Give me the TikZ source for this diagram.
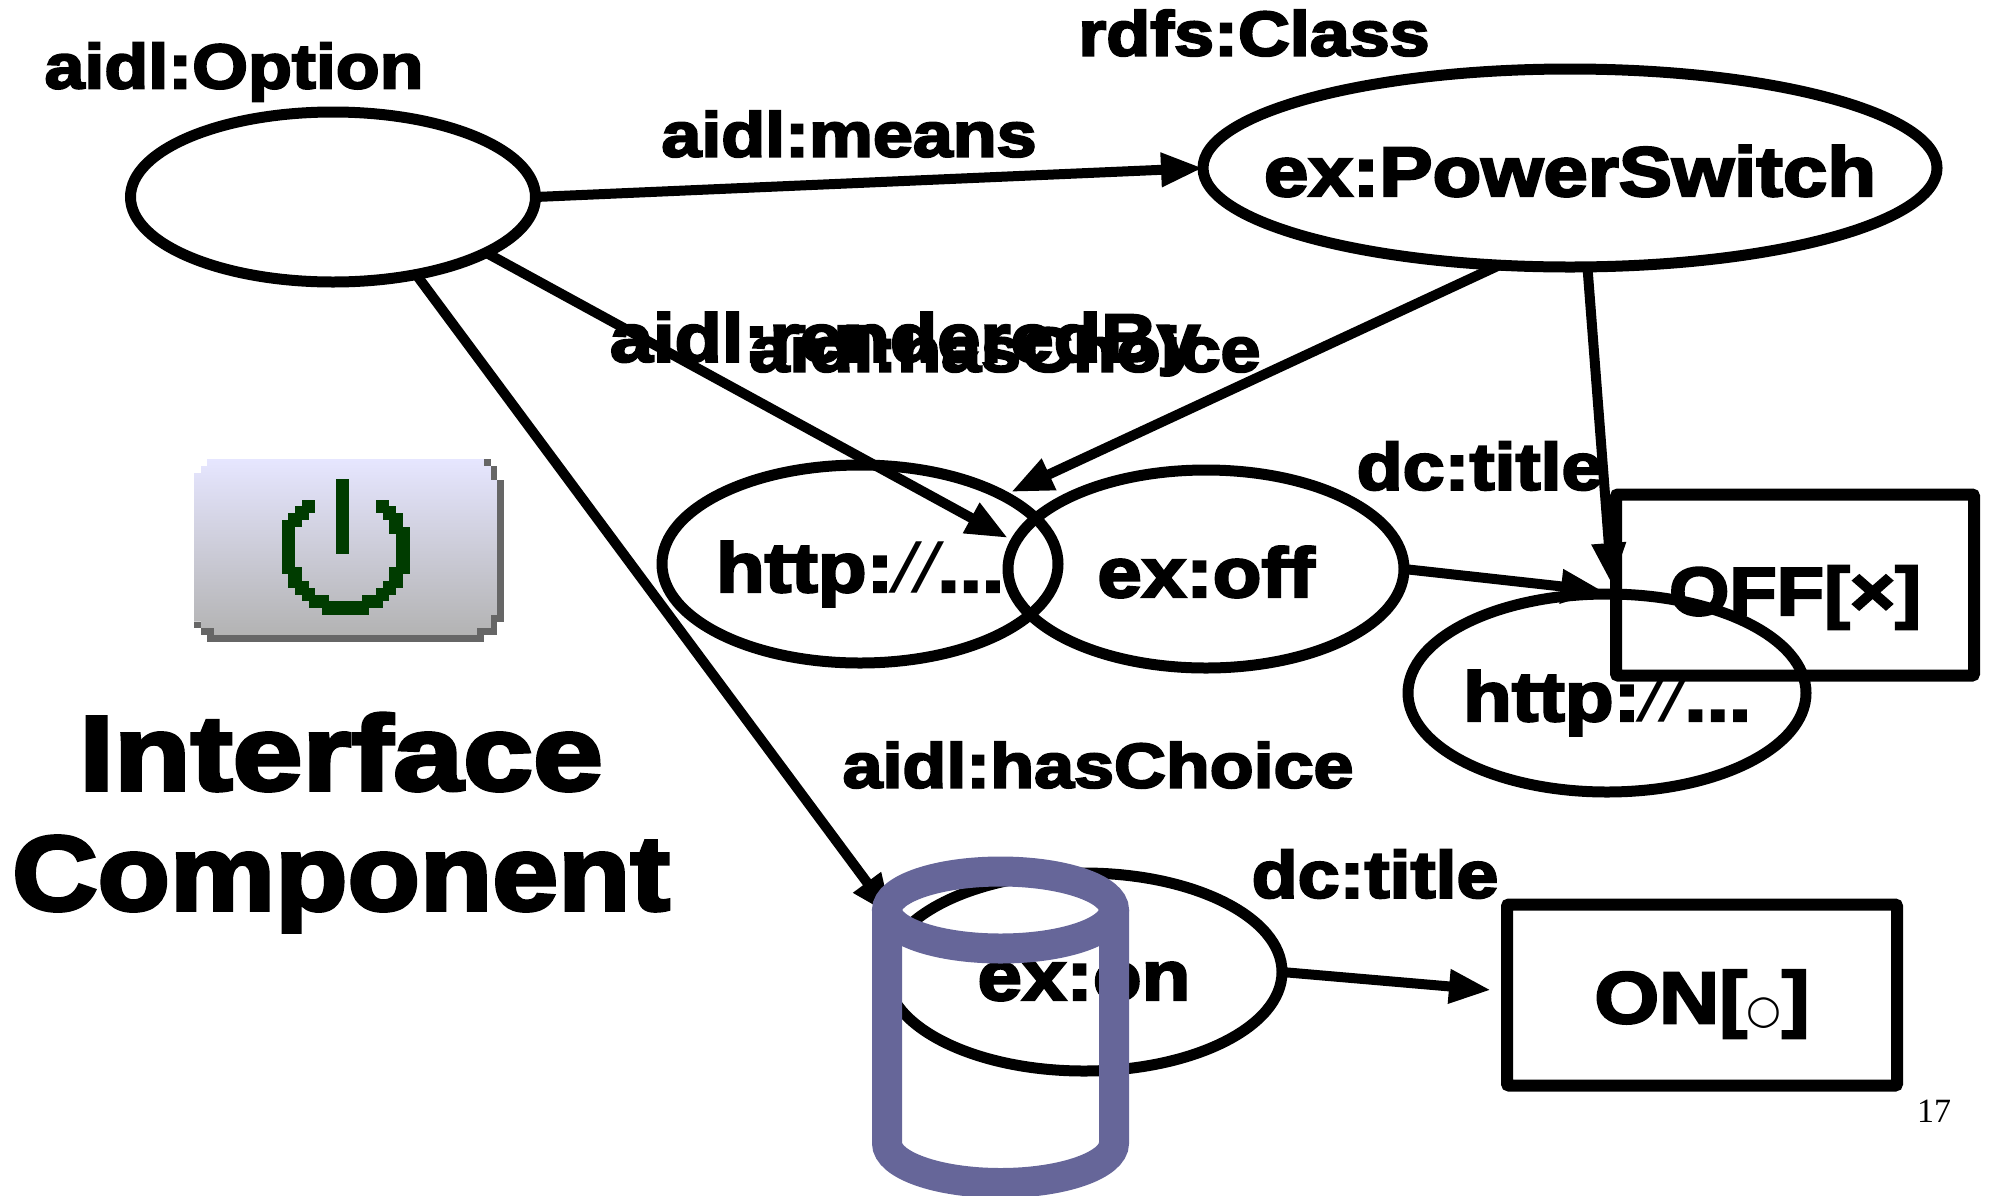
\documentclass[tikz,border=0pt]{standalone}
\usepackage{fontspec}
\setmainfont{Liberation Sans}
\newfontfamily\hv[FakeStretch=1.14,BoldFeatures={FakeBold=3.5}]{Liberation Sans}
\newfontfamily\serifnum{Liberation Serif}
\newfontfamily\djfont{DejaVu Sans}
\usetikzlibrary{arrows.meta,shapes.geometric}
\definecolor{cyl}{HTML}{666699}
\definecolor{pwr}{HTML}{003C00}
\definecolor{shd}{HTML}{666666}
\definecolor{gtop}{HTML}{E6E6FF}
\definecolor{gbot}{HTML}{B3B3B3}
\newcommand{\inlab}[1]{\makebox[0pt]{\smash{\raisebox{-0.4em}{#1}}}}
\newcommand{\slashes}{{\mdseries\itshape //}}
\tikzset{
  base/.style={font=\hv\bfseries\fontsize{35}{35}\selectfont,text=black},
  ell/.style={base,shape=ellipse,draw=black,line width=5.5pt,inner sep=0pt,outer sep=0pt},
  boxn/.style={base,shape=rectangle,draw=black,line width=6pt,rounded corners=1pt,inner sep=0pt,outer sep=0pt},
  lbl/.style={font=\hv\bfseries\fontsize{31.5}{31.5}\selectfont,text=black,inner sep=0pt},
  lblb/.style={font=\hv\bfseries\fontsize{34}{34}\selectfont,text=black,inner sep=0pt},
  lblc/.style={font=\hv\bfseries\fontsize{33}{33}\selectfont,text=black,inner sep=0pt},
  big/.style={font=\hv\bfseries\fontsize{53}{53}\selectfont,text=black,inner sep=0pt,anchor=base},
  conn/.style={line width=5pt,draw=black,-{Triangle[length=21pt,width=16pt]}},
  cylline/.style={draw=cyl,line width=15pt},
  px/.style={fill=pwr,draw=none},
  sh/.style={fill=shd,draw=none}
}
\begin{document}
\begin{tikzpicture}[x=0.5pt,y=-0.5pt]
\useasboundingbox (0,0) rectangle (1995,1195);

% icon
\begin{scope}[shift={(170,430)},x=0.16667pt,y=-0.16667pt]
 \shade[top color=gtop,bottom color=gbot]
  (72,129)--(93,129)--(93,108)--(111,108)--(111,87)--(942,87)--(942,108)--(963,108)--(963,149)--(981,149)--(981,555)--(963,555)--(963,594)--(921,594)--(921,615)--(132,615)--(132,594)--(93,594)--(93,575)--(72,575)--cycle;
 \fill[sh] (981,149) rectangle (1002,575);
 \fill[sh] (963,555) rectangle (981,594);
 \fill[sh] (921,594) rectangle (981,615);
 \fill[sh] (111,615) rectangle (942,636);
 \fill[sh] (93,594) rectangle (132,615);
 \fill[sh] (72,575) rectangle (93,594);
 \fill[sh] (942,87) rectangle (963,108);
 \fill[sh] (963,108) rectangle (981,149);
 \fill[px] (498,147) rectangle (537,372);
 \foreach \a/\b/\c/\d in {396/210/435/229,375/229/435/249,354/249/417/270,336/270/396/291,336/291/375/411,336/411/396/432,354/432/396/453,354/453/417/474,375/474/435/495,396/495/477/513,417/513/639/534,456/534/597/555,618/210/657/229,618/229/678/249,639/249/699/270,657/270/699/291,657/291/720/312,678/312/720/411,657/411/720/432,657/432/699/453,639/453/699/474,618/474/678/495,576/495/657/513}
  \fill[px] (\a,\b) rectangle (\c,\d);
\end{scope}

% nodes
\node[ell,minimum width=202.5pt,minimum height=85pt] (opt) at (333,197) {};
\node[ell,minimum width=367pt,minimum height=99pt] (ps) at (1570,168) {\inlab{ex:PowerSwitch}};
\node[ell,minimum width=198pt,minimum height=99pt] (h1) at (860,564) {\inlab{http:\slashes...}};
\node[ell,minimum width=198pt,minimum height=99pt] (off) at (1206,569) {\inlab{ex:off}};
\node[ell,minimum width=199pt,minimum height=99pt] (h2) at (1607,693) {\inlab{http:\slashes...}};
\node[ell,minimum width=198pt,minimum height=99pt] (on) at (1084,972) {\inlab{ex:on}};
\node[boxn,minimum width=179pt,minimum height=90.5pt] (tOff) at (1795,585) {\raisebox{-2pt}{\inlab{\fontsize{34}{34}\selectfont OFF[×]}}};
\node[boxn,minimum width=195pt,minimum height=90.5pt] (tOn) at (1702,995) {\inlab{\fontsize{36.5}{36.5}\selectfont ON[{\mdseries\djfont\fontsize{20}{20}\selectfont ○}]}};

% labels
\node[lbl] (l1) at (234,72) {aidl:Option};
\node[lbl] (l2) at (1254,33) {rdfs:Class};
\node[lbl] (l3) at (849,134) {aidl:means};
\node[lblb] (l4) at (905,344) {aidl:renderedBy};
\node[lbl] (l5) at (1005,349) {aidl:hasChoice};
\node[lblc] (l6) at (1480,466) {dc:title};
\node[lbl] (l7) at (1098,765) {aidl:hasChoice};
\node[lblc] (l8) at (1375,874) {dc:title};
\node[big] (t1) at (341,790) {\scalebox{1.04}[1]{Interface}};
\node[big] (t2) at (341,910) {\scalebox{0.98}[1]{Component}};
\node[font=\serifnum\fontsize{17}{17}\selectfont,inner sep=0pt] (pg) at (1934,1111) {17};

% connector ends
\coordinate (e2) at (1008,538);
\coordinate (e3) at (892,916);
\coordinate (e4) at (1011,492);
\coordinate (e5) at (1612,585);
\coordinate (e6) at (1603,591);
\coordinate (e7) at (1491,990);

\draw[conn] (opt.east) -- (ps.west);
\draw[conn] (opt.-20) -- (e2);
\draw[conn] (opt.-43) -- (e3);
\draw[conn] (ps.-126) -- (e4);
\draw[conn] (ps.-80) -- (e5);
\draw[conn] (off.east) -- (e6);
\draw[conn] (on.east) -- (e7);

% cylinder
\draw[cylline] (1000.5,910) ellipse [x radius=113.5,y radius=38.5];
\draw[cylline] (887,910) -- (887,1143) arc [start angle=180,end angle=0,x radius=113.5,y radius=40] -- (1114,910);
\end{tikzpicture}
\end{document}
